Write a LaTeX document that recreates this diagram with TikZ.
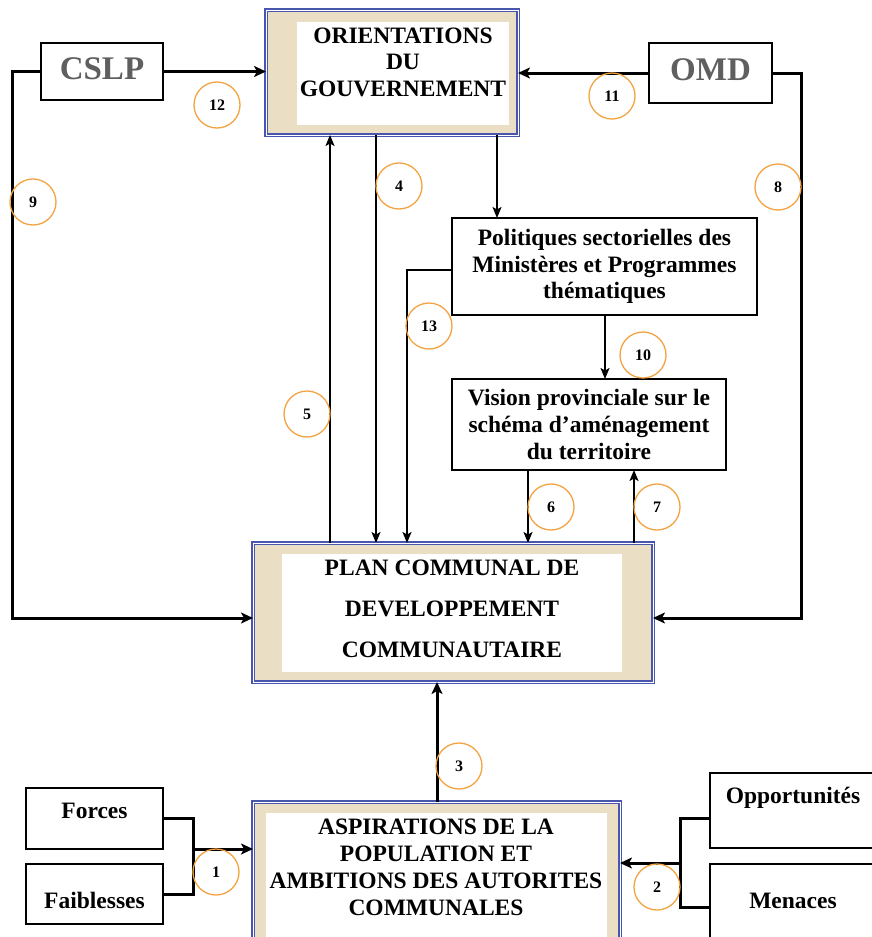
\documentclass[tikz,border=0pt]{standalone}
\usepackage{fontspec}
\setmainfont{Liberation Serif}
\usetikzlibrary{arrows.meta}
\definecolor{frameblue}{RGB}{72,86,176}
\definecolor{parch}{RGB}{234,223,196}
\definecolor{ring}{RGB}{243,163,66}
\definecolor{titlegray}{RGB}{95,95,95}
\begin{document}
\begin{tikzpicture}[x=1pt,y=-1pt,
  frame/.style={rectangle, draw=frameblue, double=white, double distance=0.9pt, line width=1.2pt, fill=parch, inner sep=0pt, outer sep=0pt},
  plainbox/.style={rectangle, draw=black, line width=1.5pt, fill=white, inner sep=0pt, outer sep=0pt},
  bigtxt/.style={font=\fontsize{23.5}{26.5}\selectfont\bfseries, align=center, inner sep=0pt},
  ringnode/.style={circle, draw=ring, line width=1.3pt, minimum size=46pt, inner sep=0pt, font=\fontsize{16}{16}\selectfont\bfseries},
  thickline/.style={line width=3pt},
  thickarrow/.style={line width=3pt, -{Stealth[length=12pt,width=11pt,inset=3pt]}},
  thinarrow/.style={line width=1.6pt, -{Stealth[length=11pt,width=9pt,inset=2.5pt]}}
]
\useasboundingbox (0,0) rectangle (872,937);
\clip (0,0) rectangle (872,937);
\fill[white] (0,0) rectangle (872,937);

% framed boxes
\node[frame, minimum width=252pt, minimum height=125pt] (orientF) at (392,72.5) {};
\fill[white] (297,22) rectangle (509,125);
\node[bigtxt] (orient) at (403,62) {ORIENTATIONS\\DU\\GOUVERNEMENT};

\node[frame, minimum width=400pt, minimum height=139pt] (pcdcF) at (453,612.5) {};
\fill[white] (282,554) rectangle (622,672);
\node[bigtxt, font=\fontsize{23.5}{41}\selectfont\bfseries] (pcdc) at (452,609) {PLAN COMMUNAL DE\\DEVELOPPEMENT\\COMMUNAUTAIRE};

\node[frame, minimum width=367pt, minimum height=150pt] (aspF) at (436.5,877) {};
\fill[white] (266,813) rectangle (607,960);
\node[bigtxt, font=\fontsize{23.5}{27}\selectfont\bfseries] (asp) at (436,867) {ASPIRATIONS DE LA\\POPULATION ET\\AMBITIONS DES AUTORITES\\COMMUNALES};

% plain boxes
\node[plainbox, bigtxt, minimum width=305pt, minimum height=97pt] (pol) at (604.5,266.5) {Politiques sectorielles des\\Ministères et Programmes\\thématiques};
\node[plainbox, bigtxt, font=\fontsize{23.5}{27}\selectfont\bfseries, minimum width=274pt, minimum height=91pt] (vis) at (589,424.5) {Vision provinciale sur le\\schéma d’aménagement\\du territoire};

\node[plainbox, minimum width=122pt, minimum height=57pt, font=\fontsize{33}{33}\selectfont\bfseries, text=titlegray, text height=22pt, text depth=7pt] (cslp) at (102,71.5) {CSLP};
\node[plainbox, minimum width=123pt, minimum height=60pt, font=\fontsize{33}{33}\selectfont\bfseries, text=titlegray, text height=21pt, text depth=7pt] (omd) at (710.5,73) {OMD};

\node[plainbox, bigtxt, minimum width=137pt, minimum height=61pt, text height=10pt, text depth=11pt] (forces) at (94.5,818.5) {Forces};
\node[plainbox, bigtxt, minimum width=137pt, minimum height=60pt, text height=30pt, text depth=2pt] (faib) at (94.5,894) {Faiblesses};
\node[plainbox, bigtxt, minimum width=166pt, minimum height=75pt, text height=5pt, text depth=20pt] (opp) at (793,810.5) {Opportunités};
\node[plainbox, bigtxt, minimum width=166pt, minimum height=86pt, text height=12pt, text depth=10pt] (men) at (793,907) {Menaces};

% coordinates
\coordinate (c9) at (12,618);
\coordinate (c8) at (801,618);
\coordinate (x5) at (330,0);
\coordinate (x4) at (376,0);
\coordinate (x497) at (497,0);
\coordinate (c13) at (407,270);
\coordinate (x10) at (605,0);
\coordinate (x6) at (528,0);
\coordinate (x7) at (634,0);
\coordinate (x3) at (437,0);
\coordinate (b1) at (193,849);
\coordinate (b2) at (680,863);
\coordinate (b2t) at (680,818);

% thick connectors
\draw[thickarrow] (cslp.east) -- (cslp.east -| orientF.west);
\draw[thickarrow] (omd.west) -- (omd.west -| orientF.east);
\draw[thickarrow] (cslp.west) -| (c9) -- (c9 -| pcdcF.west);
\draw[thickarrow] (omd.east) -| (c8) -- (c8 -| pcdcF.east);
\draw[thickarrow] (x3 |- aspF.north) -- (x3 |- pcdcF.south);

% thin connectors
\draw[thinarrow] (x5 |- pcdcF.north) -- (x5 |- orientF.south);
\draw[thinarrow] (x4 |- orientF.south) -- (x4 |- pcdcF.north);
\draw[thinarrow] (x497 |- orientF.south) -- (x497 |- pol.north);
\draw[thinarrow] (c13 -| pol.west) -- (c13) -- (c13 |- pcdcF.north);
\draw[thinarrow] (x10 |- pol.south) -- (x10 |- vis.north);
\draw[thinarrow] (x6 |- vis.south) -- (x6 |- pcdcF.north);
\draw[thinarrow] (x7 |- pcdcF.north) -- (x7 |- vis.south);

% brackets
\draw[thickline] (forces.east) -| (b1) |- (faib.east);
\draw[thickarrow] (b1) -- (b1 -| aspF.west);
\draw[thickline] (b2t -| opp.west) -- (b2t) |- (men.west);
\draw[thickarrow] (b2) -- (b2 -| aspF.east);

% numbered rings
\node[ringnode] (n12) at (217,105) {12};
\node[ringnode] (n11) at (612,96) {11};
\node[ringnode] (n9) at (33,202) {9};
\node[ringnode] (n8) at (778,187) {8};
\node[ringnode] (n4) at (399,186) {4};
\node[ringnode] (n5) at (307,414) {5};
\node[ringnode] (n13) at (429,326) {13};
\node[ringnode] (n10) at (643,355) {10};
\node[ringnode] (n6) at (551,507) {6};
\node[ringnode] (n7) at (657,507) {7};
\node[ringnode] (n3) at (459,766) {3};
\node[ringnode] (n1) at (216,872) {1};
\node[ringnode] (n2) at (657,887) {2};
\end{tikzpicture}
\end{document}
